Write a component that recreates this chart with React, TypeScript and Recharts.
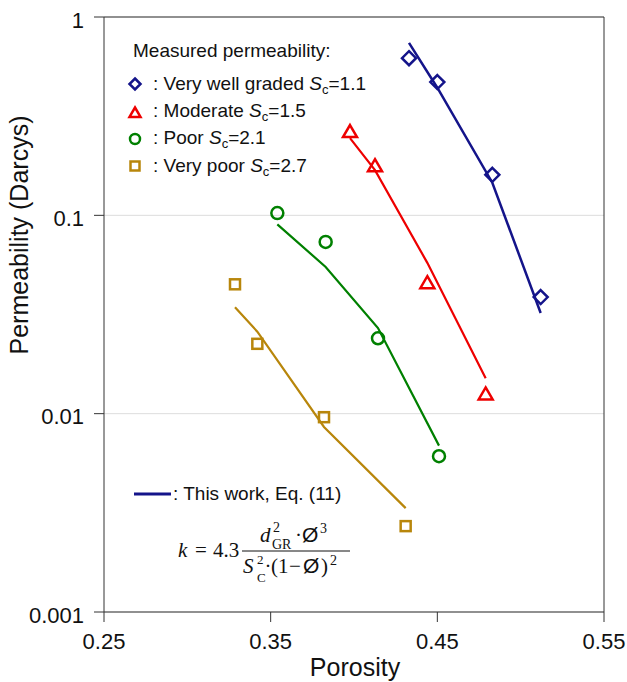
import React from "react";
import {
  ComposedChart,
  Scatter,
  XAxis,
  YAxis,
  CartesianGrid,
  ReferenceLine,
} from "recharts";

// Porosity values (x) per sample group
const veryWellPorosity = [0.433, 0.45, 0.483, 0.512];
const moderatePorosity = [0.3976, 0.4126, 0.444, 0.479];
const poorPorosity = [0.354, 0.383, 0.4144, 0.451];
const veryPoorPorosity = [0.3286, 0.342, 0.382, 0.431];

// Measured permeability (Darcys)
const veryWellMeasured = [0.62, 0.47, 0.16, 0.0387];
const moderateMeasured = [0.263, 0.177, 0.0455, 0.0125];
const poorMeasured = [0.1027, 0.0734, 0.024, 0.0061];
const veryPoorMeasured = [0.0449, 0.0225, 0.0096, 0.00271];

// Model (This work, Eq. 11)
const veryWellModel = [0.74, 0.44, 0.146, 0.0322];
const moderateModel = [0.245, 0.169, 0.0576, 0.0151];
const poorModel = [0.0901, 0.0549, 0.027, 0.0069];
const veryPoorModel = [0.0344, 0.0259, 0.00857, 0.00334];

const xTicks = [0.25, 0.35, 0.45, 0.55];
const yTicks = [0.001, 0.01, 0.1, 1];

const BLUE = "#14148a";
const RED = "#ee0000";
const GREEN = "#008000";
const BROWN = "#b8860b";

const zip = (xs: number[], ys: number[]) => xs.map((x, i) => ({ x, y: ys[i] }));

const SW = 2.5;
const diamond = (color: string, s = 7) => (p: any) => (
  <polygon
    points={`${p.cx},${p.cy - s} ${p.cx + s},${p.cy} ${p.cx},${p.cy + s} ${p.cx - s},${p.cy}`}
    fill="none"
    stroke={color}
    strokeWidth={SW}
  />
);
const triangle = (color: string, s = 7) => (p: any) => (
  <polygon
    points={`${p.cx},${p.cy - s} ${p.cx + s},${p.cy + s * 0.72} ${p.cx - s},${p.cy + s * 0.72}`}
    fill="none"
    stroke={color}
    strokeWidth={SW}
  />
);
const circle = (color: string, r = 6) => (p: any) => (
  <circle cx={p.cx} cy={p.cy} r={r} fill="none" stroke={color} strokeWidth={SW} />
);
const square = (color: string, s = 5) => (p: any) => (
  <rect x={p.cx - s} y={p.cy - s} width={2 * s} height={2 * s} fill="none" stroke={color} strokeWidth={SW} />
);
const noShape = () => <g />;

const FONT = "'Liberation Sans', Arial, Helvetica, sans-serif";
const SERIF = "'Liberation Serif', 'Times New Roman', serif";

const series = [
  { x: veryWellPorosity, m: veryWellMeasured, k: veryWellModel, color: BLUE, shape: diamond(BLUE) },
  { x: moderatePorosity, m: moderateMeasured, k: moderateModel, color: RED, shape: triangle(RED) },
  { x: poorPorosity, m: poorMeasured, k: poorModel, color: GREEN, shape: circle(GREEN) },
  { x: veryPoorPorosity, m: veryPoorMeasured, k: veryPoorModel, color: BROWN, shape: square(BROWN) },
];

export default function App() {
  const W = 627;
  const H = 682;
  return (
    <div style={{ position: "absolute", left: 0, top: 0, width: W, height: H, background: "#fff" }}>
      <ComposedChart
        width={W}
        height={H}
        margin={{ top: 17, right: 23, bottom: 20, left: 24 }}
      >
        <CartesianGrid vertical={false} stroke="#dddddd" strokeWidth={1} />
        <XAxis
          type="number"
          dataKey="x"
          domain={[0.25, 0.55]}
          ticks={xTicks}
          tickFormatter={(v: number) => v.toFixed(2)}
          height={50}
          stroke="#333"
          tickSize={10}
          tickMargin={11}
          tick={{ fill: "#111", fontSize: 22, fontFamily: FONT }}
          allowDataOverflow
        />
        <YAxis
          type="number"
          dataKey="y"
          scale="log"
          domain={[0.001, 1]}
          ticks={yTicks}
          tickFormatter={(v: number) => String(v)}
          width={80}
          stroke="#333"
          tickSize={10}
          tickMargin={10}
          tick={{ fill: "#111", fontSize: 22, fontFamily: FONT, dy: 3 }}
          allowDataOverflow
        />
        <ReferenceLine y={1} stroke="#333" strokeWidth={1} />
        <ReferenceLine x={0.55} stroke="#333" strokeWidth={1} />
        {series.map((s, i) => (
          <Scatter
            key={"line" + i}
            data={zip(s.x, s.k)}
            line={{ stroke: s.color, strokeWidth: i === 0 ? 2.5 : 2.2 }}
            lineType="joint"
            shape={noShape}
            isAnimationActive={false}
          />
        ))}
        {series.map((s, i) => (
          <Scatter
            key={"pts" + i}
            data={zip(s.x, s.m)}
            shape={s.shape}
            isAnimationActive={false}
          />
        ))}
      </ComposedChart>
      <svg
        width={W}
        height={H}
        style={{ position: "absolute", left: 0, top: 0, pointerEvents: "none" }}
      >
        {/* axis titles */}
        <text x={355} y={676} textAnchor="middle" fontSize={25} fontFamily={FONT} fill="#111">
          Porosity
        </text>
        <text
          x={0}
          y={0}
          transform="translate(28,235) rotate(-90)"
          textAnchor="middle"
          fontSize={25}
          fontFamily={FONT}
          fill="#111"
        >
          Permeability (Darcys)
        </text>

        {/* legend */}
        <g fontFamily={FONT} fontSize={19} fill="#111">
          <text x={133} y={57}>Measured permeability:</text>
          <text x={153} y={90}>
            : Very well graded <tspan fontStyle="italic">S</tspan>
            <tspan fontSize={13} dy={4}>c</tspan>
            <tspan dy={-4}>=1.1</tspan>
          </text>
          <text x={153} y={117}>
            : Moderate <tspan fontStyle="italic">S</tspan>
            <tspan fontSize={13} dy={4}>c</tspan>
            <tspan dy={-4}>=1.5</tspan>
          </text>
          <text x={153} y={144}>
            : Poor <tspan fontStyle="italic">S</tspan>
            <tspan fontSize={13} dy={4}>c</tspan>
            <tspan dy={-4}>=2.1</tspan>
          </text>
          <text x={153} y={172}>
            : Very poor <tspan fontStyle="italic">S</tspan>
            <tspan fontSize={13} dy={4}>c</tspan>
            <tspan dy={-4}>=2.7</tspan>
          </text>
          <text x={173} y={500}>: This work, Eq. (11)</text>
        </g>
        {diamond(BLUE, 5.5)({ cx: 135, cy: 84 })}
        {triangle(RED, 5.5)({ cx: 135, cy: 113 })}
        {circle(GREEN, 5)({ cx: 135, cy: 139 })}
        {square(BROWN, 4.5)({ cx: 135, cy: 166 })}
        <line x1={134} y1={494} x2={171} y2={494} stroke={BLUE} strokeWidth={3} />

        {/* equation */}
        <g fontFamily={SERIF} fill="#111" fontSize={21}>
          <text x={178} y={557}>
            <tspan fontStyle="italic">k</tspan>
            <tspan x={195}>=</tspan>
            <tspan x={213}>4.3</tspan>
          </text>
          <line x1={242} y1={551} x2={350} y2={551} stroke="#111" strokeWidth={1} />
          <text x={260} y={542}>
            <tspan fontStyle="italic">d</tspan>
            <tspan x={273} y={532} fontSize={14}>2</tspan>
            <tspan x={272} y={549} fontSize={14}>GR</tspan>
            <tspan x={295} y={542}>·</tspan>
            <tspan x={302} y={542} fontFamily={FONT} fontSize={21}>Ø</tspan>
            <tspan x={320} y={533} fontSize={14}>3</tspan>
          </text>
          <text x={243} y={573}>
            <tspan fontStyle="italic">S</tspan>
            <tspan x={257} y={564} fontSize={13}>2</tspan>
            <tspan x={257} y={582} fontSize={13}>C</tspan>
            <tspan x={264.5} y={573}>·</tspan>
            <tspan x={271} y={573}>(</tspan>
            <tspan x={278} y={573}>1</tspan>
            <tspan x={289} y={573}>−</tspan>
            <tspan x={303} y={573} fontFamily={FONT} fontSize={21}>Ø</tspan>
            <tspan x={321} y={573}>)</tspan>
            <tspan x={330} y={565} fontSize={14}>2</tspan>
          </text>
        </g>
      </svg>
    </div>
  );
}
